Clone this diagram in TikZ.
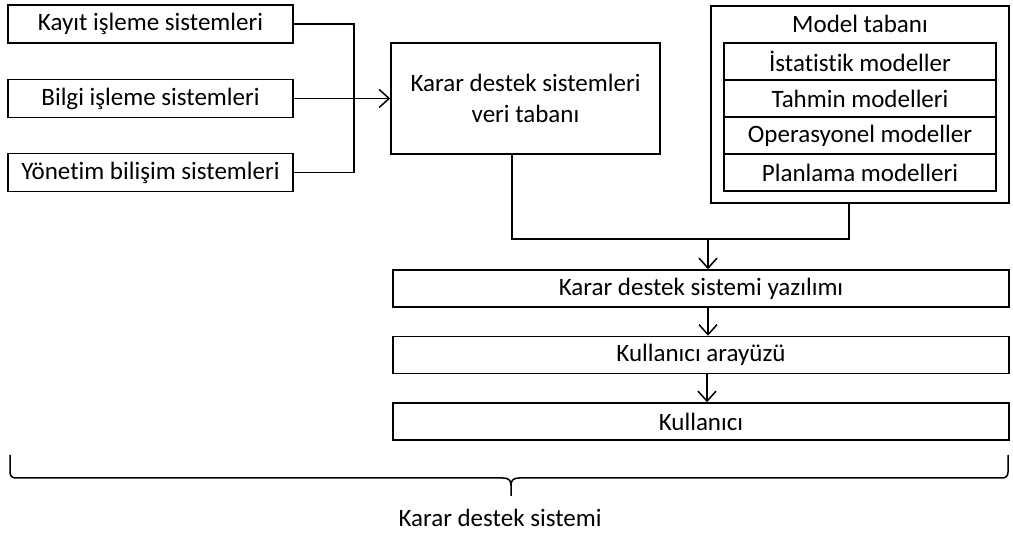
\documentclass[tikz,border=0pt]{standalone}
\usepackage{fontspec}
\setmainfont{Carlito}[Ligatures=NoCommon]
\usetikzlibrary{arrows.meta}
\tikzset{
  box/.style={draw, line width=1.5pt, rectangle, inner sep=0pt, align=center, font=\fontsize{25}{31}\selectfont},
  lbl/.style={inner sep=0pt, font=\fontsize{25}{31}\selectfont},
  conn/.style={line width=1.5pt},
  arr/.style={line width=1.5pt, -{Straight Barb[length=10pt,width=18pt,line width=1.5pt]}}
}
\begin{document}
\begin{tikzpicture}[x=1pt,y=-1pt]
\useasboundingbox (0,0) rectangle (1013,534);
% left source boxes
\node[box, minimum width=285pt, minimum height=38pt] (k1) at (150.5,24) {Kayıt işleme sistemleri};
\node[box, minimum width=285pt, minimum height=38pt] (k2) at (150.5,98.5) {Bilgi işleme sistemleri};
\node[box, minimum width=285pt, minimum height=38pt] (k3) at (150.5,172.5) {Yönetim bilişim sistemleri};
% database
\node[box, minimum width=269pt, minimum height=111pt] (db) at (525.5,98.5) {Karar destek sistemleri\\veri tabanı};
% model base
\node[box, minimum width=298pt, minimum height=197pt] (mt) at (860,104.5) {};
\node[lbl] (mtl) at (860,24) {Model tabanı};
\node[box, minimum width=272pt, minimum height=37pt] (m1) at (860,61.5) {İstatistik modeller};
\node[box, minimum width=272pt, minimum height=37pt] (m2) at (860,98.5) {Tahmin modelleri};
\node[box, minimum width=272pt, minimum height=37pt] (m3) at (860,135.5) {Operasyonel modeller};
\node[box, minimum width=272pt, minimum height=37pt] (m4) at (860,172.5) {Planlama modelleri};
% lower chain
\node[box, minimum width=616pt, minimum height=37pt] (sw) at (701,288.5) {Karar destek sistemi yazılımı};
\node[box, minimum width=616pt, minimum height=37pt] (ui) at (701,355) {Kullanıcı arayüzü};
\node[box, minimum width=616pt, minimum height=37pt] (us) at (701,421.5) {Kullanıcı};
% connectors left
\coordinate (jx) at (354,0);
\draw[conn] (k1.east) -- (k1.east -| jx) -- (k3.east -| jx) -- (k3.east);
\draw[arr] (k2.east) -- (db.west);
% connectors to software
\coordinate (j1) at (512,239);
\coordinate (j2) at (849,239);
\coordinate (ax) at (708,239);
\draw[conn] (db.south -| j1) -- (j1) -- (j2) -- (mt.south -| j2);
\draw[arr] (ax) -- (sw.north -| ax);
\draw[arr] (sw.south -| ax) -- (ui.north -| ax);
\coordinate (bx) at (707,0);
\draw[arr] (ui.south -| bx) -- (us.north -| bx);
% brace
\coordinate (bl) at (10,455);
\coordinate (br) at (1008,455);
\coordinate (bt) at (511,496);
\draw[conn, line join=round] (bl) -- (10,472) .. controls (10,476) and (12,478) .. (16,478) -- (503,478)
  .. controls (508,478) and (511,480) .. (511,485) -- (bt);
\draw[conn, line join=round] (br) -- (1008,472) .. controls (1008,476) and (1006,478) .. (1002,478) -- (519,478)
  .. controls (514,478) and (511,480) .. (511,485);
\node[lbl] (kds) at (500,518) {Karar destek sistemi};
\end{tikzpicture}
\end{document}
